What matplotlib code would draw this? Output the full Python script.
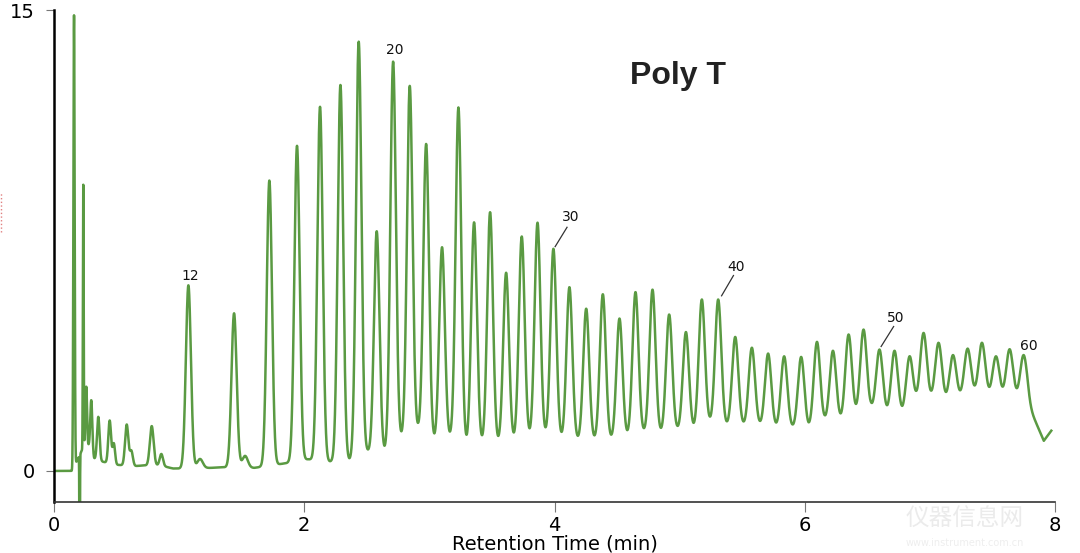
import numpy as np
import matplotlib
matplotlib.use("Agg")
import matplotlib.pyplot as plt
from matplotlib.lines import Line2D

# early part of the trace: injection spikes and short oligos (time min, apex, width)
early_times = [0.160, 0.205, 0.234, 0.258, 0.298, 0.354, 0.445, 0.478, 0.581, 0.618, 0.781, 0.858]
early_heights = [14.7, -6.0, 8.57, 1.87, 1.68, 1.41, 1.39, 0.67, 1.33, 0.48, 1.28, 0.38]
early_widths = [0.005, 0.002, 0.003, 0.006, 0.008, 0.010, 0.011, 0.010, 0.013, 0.012, 0.015, 0.013]

# ladder peaks 12mer ... 60mer (retention time, apex height)
ladder_times = [1.074, 1.439, 1.721, 1.942, 2.126, 2.289, 2.435, 2.579, 2.710, 2.843,
                2.974, 3.101, 3.232, 3.357, 3.485, 3.613, 3.738, 3.864, 3.991, 4.119,
                4.253, 4.386, 4.519, 4.647, 4.783, 4.916, 5.050, 5.177, 5.308, 5.444,
                5.577, 5.707, 5.835, 5.971, 6.097, 6.225, 6.350, 6.469, 6.597, 6.717,
                6.837, 6.949, 7.069, 7.184, 7.301, 7.416, 7.528, 7.637, 7.749]
ladder_heights = [6.04, 5.13, 9.45, 10.58, 11.85, 12.56, 13.97, 7.80, 13.32, 12.53,
                  10.64, 7.28, 11.83, 8.09, 8.42, 6.45, 7.63, 8.08, 7.23, 5.98,
                  5.28, 5.75, 4.96, 5.82, 5.90, 5.09, 4.52, 5.58, 5.58, 4.36,
                  4.01, 3.82, 3.73, 3.71, 4.20, 3.91, 4.44, 4.60, 3.95, 3.91,
                  3.73, 4.49, 4.17, 3.77, 3.98, 4.17, 3.73, 3.96, 3.77]

# small shoulders after the first ladder peaks
shoulder_times = [1.167, 1.527]
shoulder_heights = [0.39, 0.49]

# baseline (valley level)
base_times = [0.0, 0.145, 0.25, 0.28, 0.32, 0.39, 0.5, 0.65, 0.72, 0.85, 0.95, 1.0,
              1.25, 1.35, 1.6, 1.85, 2.03, 2.2, 2.36, 2.5, 2.64, 2.78, 2.91, 3.04,
              3.17, 3.3, 3.42, 3.55, 3.68, 3.8, 3.93, 4.06, 4.19, 4.32, 4.45, 4.58,
              4.72, 4.85, 4.98, 5.11, 5.24, 5.37, 5.51, 5.64, 5.77, 5.9, 6.03, 6.16,
              6.29, 6.41, 6.53, 6.66, 6.78, 6.89, 7.01, 7.13, 7.24, 7.36, 7.47, 7.58,
              7.69, 7.78, 7.85, 7.91, 7.97]
base_levels = [0.0, 0.0, 0.9, 0.8, 0.4, 0.3, 0.2, 0.16, 0.18, 0.18, 0.08, 0.08,
               0.1, 0.12, 0.1, 0.25, 0.38, 0.3, 0.33, 0.62, 0.6, 1.05, 1.3, 0.95,
               1.05, 0.78, 0.88, 0.88, 0.95, 1.05, 1.1, 1.0, 0.98, 0.98, 1.0, 1.08,
               1.22, 1.2, 1.3, 1.3, 1.52, 1.45, 1.45, 1.45, 1.38, 1.38, 1.33, 1.58,
               1.6, 1.78, 1.98, 1.83, 1.83, 2.18, 2.28, 2.23, 2.33, 2.43, 2.36, 2.33,
               2.3, 2.2, 1.55, 0.98, 1.31]

# labelled peaks: text, label position, leader line end (peak apex) or None
label_texts = ["12", "20", "30", "40", "50", "60"]
label_pos = [(1.085, 6.35), (2.725, 13.7), (4.13, 8.28), (5.45, 6.63), (6.73, 4.97), (7.79, 4.06)]
label_line = [None, None, ((4.10, 7.93), (4.005, 7.30)), ((5.43, 6.36), (5.335, 5.70)),
              ((6.71, 4.70), (6.61, 4.05)), None]

green = "#5a9a42"

t = np.linspace(0, 7.97, 12000)
signal = np.interp(t, base_times, base_levels)
for tc, h, w in zip(early_times, early_heights, early_widths):
    signal += h * np.exp(-0.5 * ((t - tc) / w) ** 2)
for tc, h in zip(ladder_times, ladder_heights):
    w = 0.019 + 0.0011 * tc
    amp = h - np.interp(tc, base_times, base_levels)
    signal += amp * np.exp(-0.5 * ((t - tc) / w) ** 2)
for tc, h in zip(shoulder_times, shoulder_heights):
    amp = h - np.interp(tc, base_times, base_levels)
    signal += amp * np.exp(-0.5 * ((t - tc) / 0.022) ** 2)

fig = plt.figure(figsize=(10.8, 5.53), dpi=100)
ax = fig.add_axes([0.05, 0.0928, 0.9269, 0.8891])
ax.plot(t, signal, color=green, lw=1.8, solid_joinstyle="round")

ax.set_xlim(0, 8)
ax.set_ylim(-1.0, 15)
ax.set_xticks([0, 2, 4, 6, 8])
ax.set_yticks([0, 15])
ax.spines["top"].set_visible(False)
ax.spines["right"].set_visible(False)
ax.spines["left"].set_linewidth(1.8)
ax.spines["left"].set_color("black")
ax.spines["bottom"].set_linewidth(1.2)
ax.spines["bottom"].set_color("#333333")
ax.tick_params(axis="y", direction="out", length=6, width=0.8, color="#777777",
               labelsize=14, pad=8)
ax.tick_params(axis="x", direction="out", length=7, width=0.8, color="#777777",
               labelsize=14, pad=3)
for lab in ax.get_xticklabels() + ax.get_yticklabels():
    lab.set_family("DejaVu Sans")
ax.set_xlabel("Retention Time (min)", fontsize=14, family="DejaVu Sans", labelpad=0)

for txt, pos, ln in zip(label_texts, label_pos, label_line):
    ax.text(pos[0], pos[1], txt, fontsize=10, family="DejaVu Sans",
            ha="center", va="center", color="#111111")
    if ln is not None:
        ax.plot([ln[0][0], ln[1][0]], [ln[0][1], ln[1][1]], color="#333333", lw=0.9)

fig.text(0.628, 0.862, "Poly T", fontsize=23, fontweight="bold",
         family="Liberation Sans", ha="center", va="center", color="#222222")

# faint site watermark and left-edge red mark from the source image
fig.text(0.893, 0.062, "仪器信息网", fontsize=17, color="#ebebeb",
         family=["Noto Sans CJK SC", "DejaVu Sans"], ha="center", va="center", zorder=0)
fig.text(0.893, 0.018, "www.instrument.com.cn", fontsize=7, color="#eeeeee",
         family="DejaVu Sans", ha="center", va="center", zorder=0)
fig.add_artist(Line2D([0.001, 0.001], [1 - 232 / 553, 1 - 193 / 553],
                      transform=fig.transFigure, color="#e08080", lw=1, ls=":"))

fig.savefig("out.png", dpi=100)
